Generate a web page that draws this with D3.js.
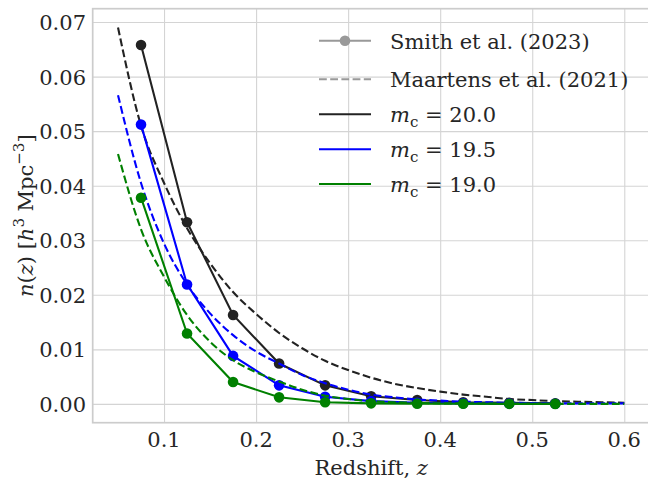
<!DOCTYPE html>
<html>
<head>
<meta charset="utf-8">
<script src="https://cdn.jsdelivr.net/npm/d3@7"></script>
<style>
  body { margin: 0; background: #fff; }
</style>
</head>
<body>
<div id="chart-area"></div>
<script>

var width = 648,
    height = 479;

var fontFam = "'DejaVu Serif'";

// Smith et al. (2023) binned points
var zPoints = [0.075, 0.125, 0.175, 0.225, 0.275, 0.325, 0.375, 0.425, 0.475, 0.525];
var smith200 = [0.0658, 0.0333, 0.0163, 0.0074, 0.0034, 0.0014, 0.0007, 0.0003, 0.0002, 0.0001];
var smith195 = [0.0512, 0.0219, 0.0088, 0.0034, 0.0013, 0.0005, 0.0002, 0.0001, 0.00005, 0.00002];
var smith190 = [0.0378, 0.0129, 0.0040, 0.0012, 0.0003, 0.0001, 0.00004, 0.00002, 0.00001, 0.0];

// Maartens et al. (2021) curves
var zCurve = [0.05, 0.075, 0.1, 0.125, 0.15, 0.175, 0.2, 0.225, 0.25, 0.275, 0.3, 0.325,
              0.35, 0.375, 0.4, 0.425, 0.45, 0.475, 0.5, 0.525, 0.55, 0.575, 0.6];
var maart200 = [0.0690, 0.0510, 0.0405, 0.0322, 0.0258, 0.0205, 0.0165, 0.0130, 0.0102, 0.0079,
                0.0062, 0.0048, 0.0037, 0.0029, 0.00225, 0.0017, 0.0013, 0.0009, 0.0007, 0.0005,
                0.0004, 0.0003, 0.0002];
var maart195 = [0.0566, 0.0405, 0.0294, 0.0219, 0.0166, 0.0126, 0.0096, 0.0074, 0.0053, 0.0038,
                0.0026, 0.0017, 0.0012, 0.0008, 0.0006, 0.0004, 0.0003, 0.0002, 0.00015, 0.0001,
                0.0001, 0.0001, 0.0001];
var maart190 = [0.0458, 0.0320, 0.0233, 0.0163, 0.0114, 0.0080, 0.0058, 0.0041, 0.0026, 0.0015,
                0.0009, 0.0005, 0.0003, 0.0002, 0.0001, 0.0001, 0.00005, 0.00003, 0.00002, 0.00001,
                0.0, 0.0, 0.0];

var magLimits = ["20.0", "19.5", "19.0"];
var colors = ["#222222", "#0000ff", "#008000"];

var xTicks = [0.1, 0.2, 0.3, 0.4, 0.5, 0.6];
var yTicks = [0.00, 0.01, 0.02, 0.03, 0.04, 0.05, 0.06, 0.07];

var margin = {left: 92.7, right: -1.6, top: 8.7, bottom: 56.3};

var svg = d3.select("#chart-area").append("svg")
    .attr("width", width)
    .attr("height", height)
    .attr("font-family", fontFam)
    .style("font-family", fontFam);

var x = d3.scaleLinear()
    .domain([0.0225, 0.6275])
    .range([margin.left, width - margin.right]);

var y = d3.scaleLinear()
    .domain([-0.00345, 0.07245])
    .range([height - margin.bottom, margin.top]);

// grid
svg.append("g")
    .attr("transform", "translate(0," + (height - margin.bottom) + ")")
    .call(d3.axisBottom(x).tickValues(xTicks).tickSize(-(height - margin.bottom - margin.top)).tickFormat(""))
    .call(g => g.select(".domain").remove())
    .call(g => g.selectAll("line").attr("stroke", "#d4d4d4").attr("stroke-width", 1.1));

svg.append("g")
    .attr("transform", "translate(" + margin.left + ",0)")
    .call(d3.axisLeft(y).tickValues(yTicks).tickSize(-(width - margin.left - margin.right)).tickFormat(""))
    .call(g => g.select(".domain").remove())
    .call(g => g.selectAll("line").attr("stroke", "#d4d4d4").attr("stroke-width", 1.1));

// frame
svg.append("rect")
    .attr("x", margin.left)
    .attr("y", margin.top)
    .attr("width", width - margin.left - margin.right)
    .attr("height", height - margin.top - margin.bottom)
    .attr("fill", "none")
    .attr("stroke", "#cccccc")
    .attr("stroke-width", 1.7);

// tick labels
svg.selectAll(".xlab")
    .data(xTicks)
    .enter()
    .append("text")
    .attr("class", "xlab")
    .attr("x", d => x(d))
    .attr("y", 447)
    .attr("text-anchor", "middle")
    .attr("fill", "#262626")
    .style("font-size", "21px")
    .text(d => d.toFixed(1));

svg.selectAll(".ylab")
    .data(yTicks)
    .enter()
    .append("text")
    .attr("class", "ylab")
    .attr("x", 86)
    .attr("y", d => y(d) + 8)
    .attr("text-anchor", "end")
    .attr("fill", "#262626")
    .style("font-size", "21px")
    .text(d => d.toFixed(2));

// axis titles
var xTitle = svg.append("text")
    .attr("x", (margin.left + width - margin.right) / 2)
    .attr("y", 475)
    .attr("text-anchor", "middle")
    .attr("fill", "#262626")
    .style("font-size", "21px");
xTitle.append("tspan").text("Redshift, ");
xTitle.append("tspan").style("font-style", "italic").text("z");

var yTitle = svg.append("text")
    .attr("transform", "translate(33," + ((margin.top + height - margin.bottom) / 2) + ") rotate(-90)")
    .attr("text-anchor", "middle")
    .attr("fill", "#262626")
    .style("font-size", "21px");
yTitle.append("tspan").style("font-style", "italic").text("n");
yTitle.append("tspan").text("(");
yTitle.append("tspan").style("font-style", "italic").text("z");
yTitle.append("tspan").text(") [");
yTitle.append("tspan").style("font-style", "italic").text("h");
yTitle.append("tspan").attr("dy", -9).style("font-size", "15px").text("3");
yTitle.append("tspan").attr("dy", 9).text(" Mpc");
yTitle.append("tspan").attr("dy", -9).style("font-size", "15px").text("\u22123");
yTitle.append("tspan").attr("dy", 9).text("]");

// lines
var curveLine = d3.line()
    .x(d => x(d[0]))
    .y(d => y(d[1]))
    .curve(d3.curveMonotoneX);

var pointLine = d3.line()
    .x(d => x(d[0]))
    .y(d => y(d[1]));

var smithSets = [smith200, smith195, smith190];
var maartSets = [maart200, maart195, maart190];

smithSets.forEach(function(vals, i) {
  var pts = zPoints.map((z, j) => [z, vals[j]]);
  var cur = zCurve.map((z, j) => [z, maartSets[i][j]]);

  svg.append("path")
      .datum(pts)
      .attr("d", pointLine)
      .attr("fill", "none")
      .attr("stroke", colors[i])
      .attr("stroke-width", 2.1);

  svg.selectAll(".dot" + i)
      .data(pts)
      .enter()
      .append("circle")
      .attr("cx", d => x(d[0]))
      .attr("cy", d => y(d[1]))
      .attr("r", 5.3)
      .style("fill", colors[i]);

  svg.append("path")
      .datum(cur)
      .attr("d", curveLine)
      .attr("fill", "none")
      .attr("stroke", colors[i])
      .attr("stroke-width", 2.1)
      .attr("stroke-dasharray", "7.8,3.4");
});

// legend
var legend = svg.append("g");
var legY = [40.7, 79.3, 114.3, 149.3, 184];
var legX0 = 319, legX1 = 371, legText = 390;

legend.append("line")
    .attr("x1", legX0).attr("x2", legX1)
    .attr("y1", legY[0]).attr("y2", legY[0])
    .attr("stroke", "#999999").attr("stroke-width", 2.1);
legend.append("circle")
    .attr("cx", (legX0 + legX1) / 2).attr("cy", legY[0]).attr("r", 5.3)
    .style("fill", "#999999");
legend.append("text")
    .attr("x", legText).attr("y", legY[0] + 8)
    .attr("fill", "#262626")
    .style("font-size", "21px")
    .text("Smith et al. (2023)");

legend.append("line")
    .attr("x1", legX0).attr("x2", legX1)
    .attr("y1", legY[1]).attr("y2", legY[1])
    .attr("stroke", "#999999").attr("stroke-width", 2.1)
    .attr("stroke-dasharray", "7.8,3.4");
legend.append("text")
    .attr("x", legText).attr("y", legY[1] + 8)
    .attr("fill", "#262626")
    .style("font-size", "21px")
    .text("Maartens et al. (2021)");

magLimits.forEach(function(m, i) {
  var yy = legY[i + 2];
  legend.append("line")
      .attr("x1", legX0).attr("x2", legX1)
      .attr("y1", yy).attr("y2", yy)
      .attr("stroke", colors[i]).attr("stroke-width", 2.1);
  var t = legend.append("text")
      .attr("x", legText).attr("y", yy + 8)
      .attr("fill", "#262626")
      .style("font-size", "21px");
  t.append("tspan").style("font-style", "italic").text("m");
  t.append("tspan").attr("dy", 5).style("font-size", "15px").text("c");
  t.append("tspan").attr("dy", -5).text(" = " + m);
});

</script>
</body>
</html>
